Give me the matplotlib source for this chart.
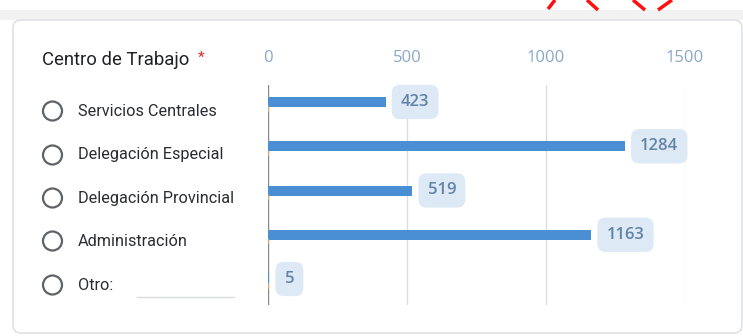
import matplotlib
matplotlib.use('Agg')
import matplotlib.pyplot as plt
from matplotlib.patches import FancyBboxPatch, Circle, Rectangle
import numpy as np

# data
categories = ['Servicios Centrales', 'Delegación Especial', 'Delegación Provincial',
              'Administración', 'Otro:']
counts = [423, 1284, 519, 1163, 5]
ticks = [0, 500, 1000, 1500]
title = 'Centro de Trabajo'

W, H = 743, 336
fig = plt.figure(figsize=(W / 100, H / 100), dpi=100)
fig.patch.set_facecolor('white')

# background axes in pixel coords
bg = fig.add_axes([0, 0, 1, 1])
bg.set_xlim(0, W); bg.set_ylim(H, 0); bg.axis('off')
bg.add_patch(Rectangle((0, 10), W, 10, facecolor='#f2f2f2', edgecolor='none'))
bg.add_patch(FancyBboxPatch((13, 20), W - 14, 313, boxstyle='round,pad=0,rounding_size=8',
                            facecolor='white', edgecolor='#dadce0', linewidth=1))
# red marks cut off at top
for (x0, y0, x1, y1) in [(548, 9, 555, 0), (587, 0, 598, 10), (633, 0, 645, 10), (658, 10, 672, 0)]:
    bg.plot([x0, x1], [y0, y1], color='#ff1010', lw=2.5, solid_capstyle='butt')

bg.text(42, 60, title, fontsize=13.3, family='Roboto', color='#202124', va='center')
bg.text(198, 58, '*', fontsize=11, family='Roboto', color='#d93025', va='center')

row_y = [111, 155, 198, 241, 285]
for lab, y in zip(categories, row_y):
    bg.add_patch(Circle((52.5, y), 9.5, facecolor='none', edgecolor='#5f6368', lw=1.6))
    bg.text(78, y, lab, fontsize=11.7, family='Roboto', color='#2a2c30', va='center')
bg.plot([137, 234], [297, 297], color='#dadce0', lw=1)

# chart axes
x0p, x1p = 268, 685
top, bot = 85, 305
ax = fig.add_axes([x0p / W, 1 - bot / H, (x1p - x0p) / W, (bot - top) / H])
ax.patch.set_alpha(0)
bar_y = [102, 146, 190, 233, 279]
step = (bar_y[-1] - bar_y[0]) / 4
ax.set_xlim(0, 1500)
ax.set_ylim(4 + (bot - bar_y[-1]) / step, -(bar_y[0] - top) / step)
pos = np.arange(len(categories))
ax.barh(pos, counts, height=10 / step, color='#4a8fd4', zorder=3)
ax.barh(pos + 0.16, [4] * len(categories), height=0.12, color='#e8a060', zorder=3)

for t in ticks[1:]:
    ax.axvline(t, color='#dddddd', lw=1, zorder=1)
ax.axvline(0, color='#888888', lw=1, zorder=2)
for s in ax.spines.values():
    s.set_visible(False)
ax.set_yticks([])
ax.set_xticks([])
for t in ticks:
    bg.text(x0p + t * (x1p - x0p) / 1500, 58, str(t), fontsize=12, family='Open Sans',
            color='#8aa8c4', ha='center', va='center')

for p, v in zip(pos, counts):
    ax.annotate(str(v), (v, p), xytext=(11, 0), textcoords='offset points',
                ha='left', va='center', fontsize=12, family='Open Sans',
                fontweight='semibold', color='#6283a8', zorder=4, annotation_clip=False,
                bbox=dict(boxstyle='round,pad=0.55,rounding_size=0.5',
                          fc='#dde9f5', ec='none'))

fig.savefig('out.png', dpi=100)
